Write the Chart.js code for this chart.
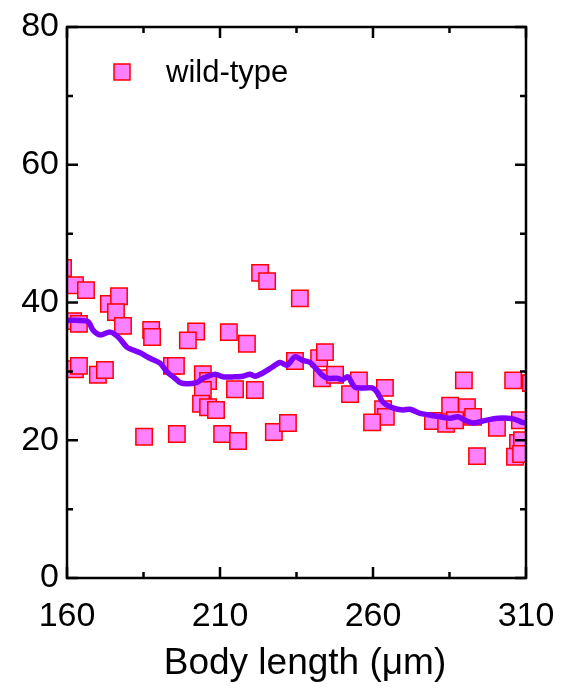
<!DOCTYPE html>
<html>
<head>
<meta charset="utf-8">
<script src="https://cdn.jsdelivr.net/npm/chart.js@4.4.1/dist/chart.umd.min.js"></script>
<style>
    html, body { margin: 0; padding: 0; background: #fff; }
    #wrap { width: 569px; height: 692px; }
</style>
</head>
<body>
<div id="wrap"><canvas id="bodyChart" width="569" height="692"></canvas></div>
<script>
// wild-type measurements vs body length
const xWild = [162.6, 166.2, 158.7, 162.0, 163.9, 162.6, 163.9, 170.1, 172.4, 173.7,
    177.0, 176.0, 178.3, 187.5, 187.8, 185.2, 194.3, 195.6, 195.9, 202.2,
    199.5, 204.4, 206.1, 204.4, 203.8, 206.1, 208.7, 210.7, 215.9, 212.9,
    218.8, 214.9, 221.4, 223.1, 225.4, 227.6, 232.2, 236.1, 234.5, 242.4,
    244.3, 243.3, 247.6, 255.4, 252.5, 263.9, 263.3, 264.2, 259.7, 289.7,
    305.8, 311.6, 285.2, 290.7, 279.6, 283.9, 286.8, 292.7, 300.5, 308.0,
    307.4, 308.7, 306.4, 308.4, 294.0];
const yWild = [42.5, 41.8, 45.0, 37.3, 36.9, 30.3, 30.8, 29.5, 30.2, 39.8,
    40.9, 38.6, 36.6, 36.0, 35.0, 20.5, 30.8, 30.8, 20.9, 35.8,
    34.5, 29.6, 28.6, 27.3, 25.3, 24.8, 24.4, 20.9, 19.9, 35.7,
    34.0, 27.4, 27.3, 44.3, 43.1, 21.2, 22.5, 40.6, 31.5, 31.9,
    32.8, 29.0, 29.5, 28.7, 26.7, 27.6, 24.5, 23.4, 22.6, 28.7,
    28.7, 28.3, 25.0, 24.8, 22.8, 22.4, 22.9, 23.4, 21.8, 22.9,
    19.6, 20.0, 17.6, 18.0, 17.7];

// running average curve
const xTrend = [160.0, 164.2, 166.9, 168.5, 170.8, 174.1, 176.7, 179.6, 181.6, 183.9,
    187.1, 190.4, 192.7, 195.3, 196.9, 199.2, 202.5, 204.4, 206.1, 208.4,
    211.0, 214.2, 217.5, 219.8, 221.4, 224.1, 227.0, 229.6, 231.9, 234.5,
    237.1, 239.4, 241.0, 243.3, 245.3, 248.2, 250.0, 251.8, 254.1, 257.4,
    259.7, 261.3, 263.3, 266.5, 269.8, 272.1, 275.4, 278.0, 281.9, 285.2,
    287.8, 290.1, 292.7, 295.9, 300.8, 305.8, 308.7, 310.0];
const yTrend = [37.4, 37.4, 37.2, 36.0, 35.3, 35.7, 35.0, 33.5, 33.1, 32.7,
    31.9, 31.2, 29.9, 29.0, 28.4, 28.2, 28.4, 29.0, 29.3, 29.6,
    29.2, 29.2, 29.3, 29.6, 29.3, 29.8, 30.6, 31.3, 30.9, 32.1,
    31.6, 31.3, 30.6, 29.5, 29.0, 29.0, 28.8, 29.2, 27.7, 27.6,
    27.6, 27.0, 25.5, 24.7, 24.4, 24.5, 23.9, 23.7, 23.4, 23.2,
    23.4, 22.9, 22.5, 22.8, 23.2, 23.1, 22.6, 22.5];

const xTickLabels = [160, 210, 260, 310];
const xMinorTicks = [185, 235, 285];
const yTickLabels = [0, 20, 40, 60, 80];
const yMinorTicks = [10, 30, 50, 70];

const seriesName = 'wild-type';
const xTitle = 'Body length (\u03bcm)';

const FONT = 'Arial, "Liberation Sans", sans-serif';
const MARKER_FILL = '#ff80ff';
const MARKER_EDGE = '#ff0000';
const LINE_COLOR = '#8000ff';

// frame + inward ticks on all four sides, axis title and the in-plot legend
const framePlugin = {
    id: 'frame',
    afterDraw(chart) {
        const { ctx, chartArea: a, scales } = chart;
        const xs = scales.x, ys = scales.y;
        ctx.save();
        ctx.strokeStyle = '#000';
        ctx.lineWidth = 2.5;
        ctx.lineCap = 'butt';

        const major = 11, minor = 6;
        ctx.beginPath();
        xTickLabels.forEach(v => {
            const px = xs.getPixelForValue(v);
            ctx.moveTo(px, a.bottom); ctx.lineTo(px, a.bottom - major);
            ctx.moveTo(px, a.top); ctx.lineTo(px, a.top + major);
        });
        xMinorTicks.forEach(v => {
            const px = xs.getPixelForValue(v);
            ctx.moveTo(px, a.bottom); ctx.lineTo(px, a.bottom - minor);
            ctx.moveTo(px, a.top); ctx.lineTo(px, a.top + minor);
        });
        yTickLabels.forEach(v => {
            const py = ys.getPixelForValue(v);
            ctx.moveTo(a.left, py); ctx.lineTo(a.left + major, py);
            ctx.moveTo(a.right, py); ctx.lineTo(a.right - major, py);
        });
        yMinorTicks.forEach(v => {
            const py = ys.getPixelForValue(v);
            ctx.moveTo(a.left, py); ctx.lineTo(a.left + minor, py);
            ctx.moveTo(a.right, py); ctx.lineTo(a.right - minor, py);
        });
        ctx.stroke();

        ctx.strokeRect(a.left, a.top, a.right - a.left, a.bottom - a.top);

        // x axis title
        ctx.fillStyle = '#000';
        ctx.font = '37px ' + FONT;
        ctx.textAlign = 'center';
        ctx.textBaseline = 'middle';
        ctx.fillText(xTitle, 305, 664);

        // legend
        const lx = a.left + 55, ly = a.top + 45;
        ctx.fillStyle = MARKER_FILL;
        ctx.strokeStyle = MARKER_EDGE;
        ctx.lineWidth = 1.5;
        ctx.fillRect(lx - 8, ly - 8, 16, 16);
        ctx.strokeRect(lx - 8, ly - 8, 16, 16);
        ctx.fillStyle = '#000';
        ctx.font = '31px ' + FONT;
        ctx.textAlign = 'left';
        ctx.fillText(seriesName, lx + 44, ly + 1);
        ctx.restore();
    }
};

const ctx = document.getElementById('bodyChart').getContext('2d');
new Chart(ctx, {
    data: {
        datasets: [
            {
                type: 'line',
                label: 'average',
                data: xTrend.map((x, i) => ({ x: x, y: yTrend[i] })),
                borderColor: LINE_COLOR,
                borderWidth: 5.5,
                borderJoinStyle: 'round',
                borderCapStyle: 'round',
                pointRadius: 0,
                tension: 0.3,
                fill: false,
                order: 0,
                clip: 0
            },
            {
                type: 'scatter',
                label: seriesName,
                data: xWild.map((x, i) => ({ x: x, y: yWild[i] })),
                pointStyle: 'rect',
                pointRadius: 11.6,
                pointHoverRadius: 11.6,
                backgroundColor: MARKER_FILL,
                borderColor: MARKER_EDGE,
                borderWidth: 1.5,
                order: 1,
                clip: 0
            }
        ]
    },
    options: {
        responsive: false,
        animation: false,
        devicePixelRatio: 1,
        layout: { padding: { top: 27, right: 43, left: 0, bottom: 0 } },
        plugins: {
            legend: { display: false },
            tooltip: { enabled: false }
        },
        scales: {
            x: {
                type: 'linear',
                min: 160,
                max: 310,
                afterBuildTicks: s => { s.ticks = xTickLabels.map(v => ({ value: v })); },
                afterFit: s => {
                    s.height = 114;
                    s.paddingLeft = 0;
                    s.paddingRight = 0;
                },
                grid: { display: false, drawTicks: false },
                border: { display: false },
                ticks: {
                    color: '#000',
                    padding: 18,
                    maxRotation: 0,
                    font: { family: FONT, size: 34 }
                }
            },
            y: {
                type: 'linear',
                min: 0,
                max: 80,
                afterBuildTicks: s => { s.ticks = yTickLabels.map(v => ({ value: v })); },
                afterFit: s => {
                    s.width = 67;
                    s.paddingTop = 0;
                    s.paddingBottom = 0;
                },
                grid: { display: false, drawTicks: false },
                border: { display: false },
                ticks: {
                    color: '#000',
                    padding: 8,
                    font: { family: FONT, size: 34 }
                }
            }
        }
    },
    plugins: [framePlugin]
});
</script>
</body>
</html>
